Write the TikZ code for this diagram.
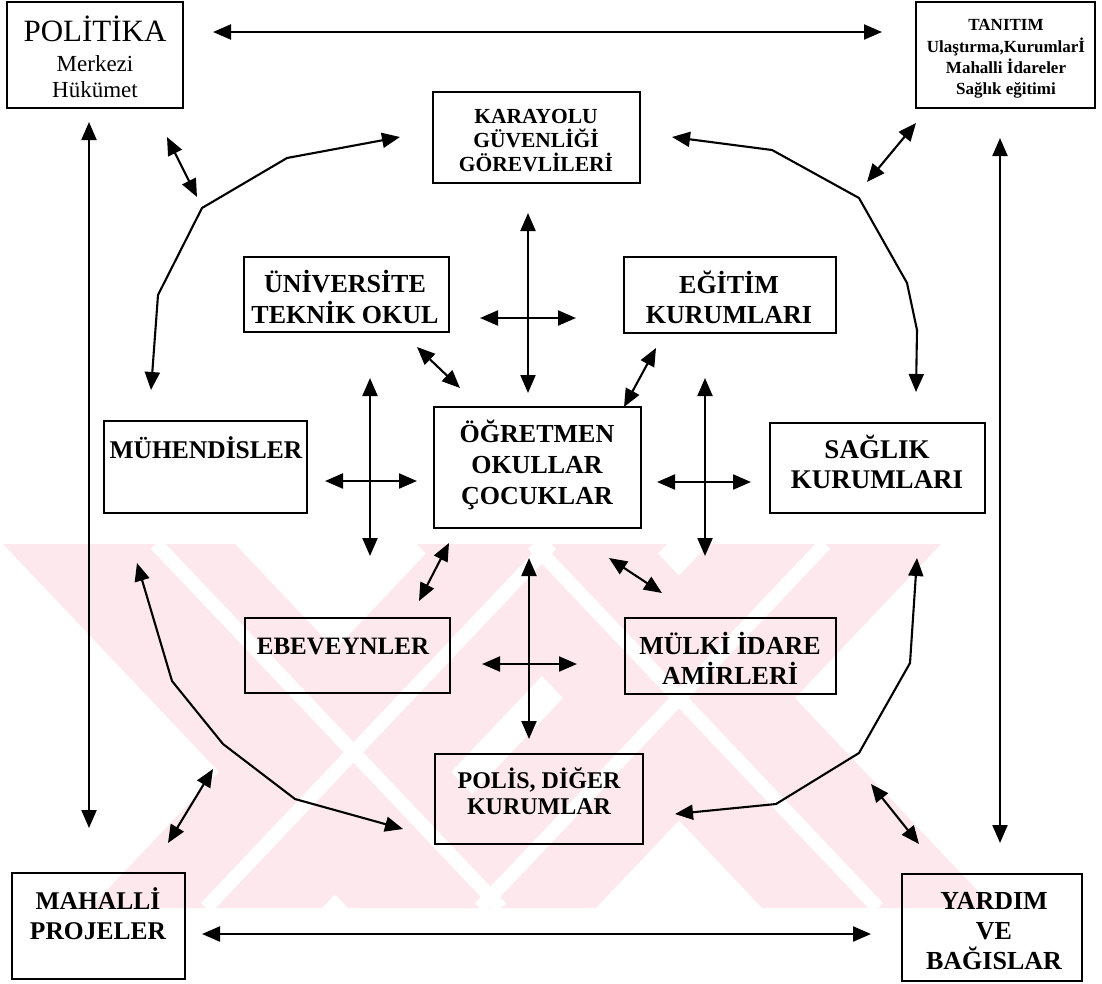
\documentclass[tikz,border=0pt]{standalone}
\usepackage{fontspec}
\setmainfont{Liberation Serif}
\usetikzlibrary{arrows.meta}
\definecolor{wm}{RGB}{253,233,237}
\begin{document}
\begin{tikzpicture}[x=1pt,y=-1pt,
  box/.style={draw, line width=2pt, rectangle, inner sep=0pt},
  lbl/.style={anchor=base, inner sep=0pt, font=\bfseries\fontsize{26}{30}\selectfont},
  conn/.style={line width=2.1pt, line join=round, {Triangle[length=18pt,width=15pt]}-{Triangle[length=18pt,width=15pt]}},
  band/.style={fill=wm, draw=none},
  gap/.style={draw=white, line width=14pt}]
\path[use as bounding box] (0,0) rectangle (1102,983);

% watermark
\begin{scope}
\clip (0,544) rectangle (1000,908);
\fill[band] (3,544) -- (235,544) -- (580,908) -- (348,908) -- cycle;
\fill[band] (435,544) -- (667,544) -- (322,908) -- (90,908) -- cycle;
\fill[band] (417,544) -- (649,544) -- (994,908) -- (762,908) -- cycle;
\fill[band] (709,544) -- (941,544) -- (596,908) -- (364,908) -- cycle;
\draw[gap] (156,544) -- (501,908);
\draw[gap] (551,544) -- (206,908);
\draw[gap] (533,544) -- (878,908);
\draw[gap] (825,544) -- (480,908);
\end{scope}

% boxes
\node[box, minimum width=176pt, minimum height=106pt] (pol) at (95,55) {};
\node[box, minimum width=179pt, minimum height=106pt] (tan) at (1005.5,55) {};
\node[box, minimum width=207pt, minimum height=91pt] (kar) at (536.5,137.5) {};
\node[box, minimum width=205pt, minimum height=75pt] (uni) at (346.5,294.5) {};
\node[box, minimum width=212pt, minimum height=76pt] (egi) at (730,295) {};
\node[box, minimum width=203pt, minimum height=92pt] (muh) at (205.5,467) {};
\node[box, minimum width=207pt, minimum height=121pt] (ogr) at (537.5,467.5) {};
\node[box, minimum width=215pt, minimum height=90pt] (sag) at (877.5,468) {};
\node[box, minimum width=205pt, minimum height=75pt] (ebe) at (347.5,655.5) {};
\node[box, minimum width=211pt, minimum height=76pt] (mul) at (730.5,656) {};
\node[box, minimum width=208pt, minimum height=90pt] (pols) at (539,799) {};
\node[box, minimum width=173pt, minimum height=106pt] (mah) at (98.5,926) {};
\node[box, minimum width=180pt, minimum height=107pt] (yar) at (992,927.5) {};

% texts
\node[lbl, font=\fontsize{31}{31}\selectfont] (pol-a) at (95,41) {POLİTİKA};
\node[lbl, font=\fontsize{23}{26}\selectfont] (pol-b) at (95,71) {Merkezi};
\node[lbl, font=\fontsize{23}{26}\selectfont] (pol-c) at (95,97) {Hükümet};
\node[lbl, font=\bfseries\fontsize{17}{21}\selectfont] (tan-a) at (1006,30) {TANITIM};
\node[lbl, font=\bfseries\fontsize{17}{21}\selectfont] (tan-b) at (1006,52) {Ulaştırma,Kurumlarİ};
\node[lbl, font=\bfseries\fontsize{17}{21}\selectfont] (tan-c) at (1006,73) {Mahalli İdareler};
\node[lbl, font=\bfseries\fontsize{17}{21}\selectfont] (tan-d) at (1006,94) {Sağlık eğitimi};
\node[lbl, font=\bfseries\fontsize{21.5}{24}\selectfont] (kar-a) at (536,123) {KARAYOLU};
\node[lbl, font=\bfseries\fontsize{21.5}{24}\selectfont] (kar-b) at (536,147) {GÜVENLİĞİ};
\node[lbl, font=\bfseries\fontsize{21.5}{24}\selectfont] (kar-c) at (536,171) {GÖREVLİLERİ};
\node[lbl] (uni-a) at (345,292) {ÜNİVERSİTE};
\node[lbl] (uni-b) at (345,323) {TEKNİK OKUL};
\node[lbl] (egi-a) at (729,293) {EĞİTİM};
\node[lbl] (egi-b) at (729,323) {KURUMLARI};
\node[lbl] (ogr-a) at (537,442) {ÖĞRETMEN};
\node[lbl] (ogr-b) at (537,473) {OKULLAR};
\node[lbl] (ogr-c) at (537,504) {ÇOCUKLAR};
\node[lbl, font=\bfseries\fontsize{25.5}{30}\selectfont] (muh-a) at (206,458) {MÜHENDİSLER};
\node[lbl, font=\bfseries\fontsize{27}{30}\selectfont] (sag-a) at (877,458) {SAĞLIK};
\node[lbl, font=\bfseries\fontsize{27}{30}\selectfont] (sag-b) at (877,488) {KURUMLARI};
\node[lbl, font=\bfseries\fontsize{25}{30}\selectfont] (ebe-a) at (343,654) {EBEVEYNLER};
\node[lbl] (mul-a) at (730,654) {MÜLKİ İDARE};
\node[lbl] (mul-b) at (730,684) {AMİRLERİ};
\node[lbl, font=\bfseries\fontsize{24}{26}\selectfont] (pols-a) at (539,788) {POLİS, DİĞER};
\node[lbl, font=\bfseries\fontsize{24}{26}\selectfont] (pols-b) at (539,814) {KURUMLAR};
\node[lbl, font=\bfseries\fontsize{25.5}{30}\selectfont] (mah-a) at (98,909) {MAHALLİ};
\node[lbl, font=\bfseries\fontsize{25.5}{30}\selectfont] (mah-b) at (98,939) {PROJELER};
\node[lbl] (yar-a) at (994,909) {YARDIM};
\node[lbl] (yar-b) at (994,939) {VE};
\node[lbl] (yar-c) at (994,969) {BAĞISLAR};

% connector end points
\coordinate (t1) at (213,32);   \coordinate (t2) at (882,32);
\coordinate (l1) at (89,122);   \coordinate (l2) at (89,828);
\coordinate (r1) at (1000,138); \coordinate (r2) at (1000,843);
\coordinate (b1) at (202,934);  \coordinate (b2) at (871,934);
\coordinate (d1a) at (167,137); \coordinate (d1b) at (197,197);
\coordinate (d2a) at (916,123); \coordinate (d2b) at (867,182);
\coordinate (d3a) at (213,769); \coordinate (d3b) at (168,843);
\coordinate (d4a) at (871,784); \coordinate (d4b) at (919,844);
\coordinate (p1a) at (400,137); \coordinate (p1b) at (151,390);
\coordinate (p2a) at (672,137); \coordinate (p2b) at (916,392);
\coordinate (p3a) at (137,563); \coordinate (p3b) at (403,829);
\coordinate (p4a) at (917,558); \coordinate (p4b) at (675,814);
\coordinate (v1a) at (528,213); \coordinate (v1b) at (528,393);
\coordinate (h1a) at (480,318); \coordinate (h1b) at (576,318);
\coordinate (e1a) at (417,347); \coordinate (e1b) at (460,388);
\coordinate (e2a) at (656,348); \coordinate (e2b) at (624,407);
\coordinate (h2a) at (325,481); \coordinate (h2b) at (417,481);
\coordinate (v2a) at (370,378); \coordinate (v2b) at (370,556);
\coordinate (h3a) at (657,482); \coordinate (h3b) at (751,482);
\coordinate (v3a) at (705,378); \coordinate (v3b) at (705,556);
\coordinate (e3a) at (449,543); \coordinate (e3b) at (419,601);
\coordinate (v4a) at (529,558); \coordinate (v4b) at (529,739);
\coordinate (h4a) at (482,664); \coordinate (h4b) at (577,664);
\coordinate (e4a) at (609,558); \coordinate (e4b) at (662,593);

% connectors
\draw[conn] (t1) -- (t2);
\draw[conn] (l1) -- (l2);
\draw[conn] (r1) -- (r2);
\draw[conn] (b1) -- (b2);
\draw[conn] (d1a) -- (d1b);
\draw[conn] (d2a) -- (d2b);
\draw[conn] (d3a) -- (d3b);
\draw[conn] (d4a) -- (d4b);
\draw[conn] (p1a) -- (287,158) -- (202,208) -- (158,295) -- (p1b);
\draw[conn] (p2a) -- (772,150) -- (859,198) -- (907,283) -- (917,330) -- (p2b);
\draw[conn] (p3a) -- (172,681) -- (223,744) -- (295,799) -- (p3b);
\draw[conn] (p4a) -- (910,663) -- (859,753) -- (776,804) -- (p4b);
\draw[conn] (v1a) -- (v1b);
\draw[conn] (h1a) -- (h1b);
\draw[conn] (e1a) -- (e1b);
\draw[conn] (e2a) -- (e2b);
\draw[conn] (h2a) -- (h2b);
\draw[conn] (v2a) -- (v2b);
\draw[conn] (h3a) -- (h3b);
\draw[conn] (v3a) -- (v3b);
\draw[conn] (e3a) -- (e3b);
\draw[conn] (v4a) -- (v4b);
\draw[conn] (h4a) -- (h4b);
\draw[conn] (e4a) -- (e4b);
\end{tikzpicture}
\end{document}
